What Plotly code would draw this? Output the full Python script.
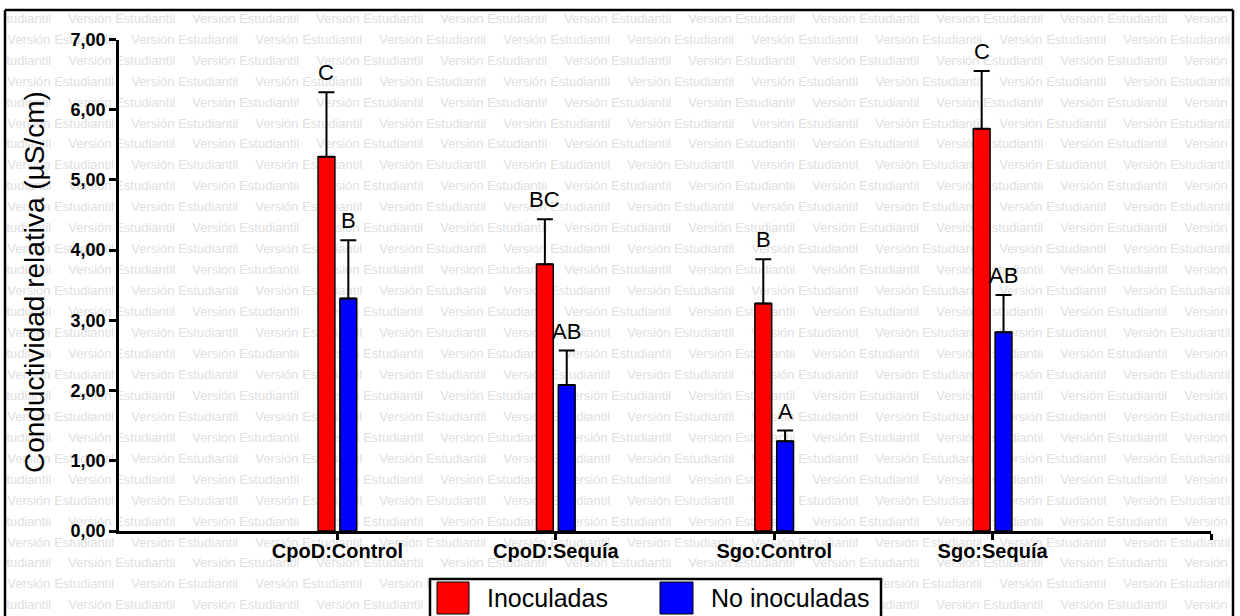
import plotly.graph_objects as go

# ---- data -------------------------------------------------------------
categories = ["CpoD:Control", "CpoD:Sequía", "Sgo:Control", "Sgo:Sequía"]
series_names = ["Inoculadas", "No inoculadas"]

inoc_mean = [5.33, 3.80, 3.24, 5.73]
inoc_err = [0.92, 0.64, 0.63, 0.82]
inoc_letters = ["C", "BC", "B", "C"]

no_mean = [3.31, 2.08, 1.28, 2.83]
no_err = [0.83, 0.49, 0.15, 0.53]
no_letters = ["B", "AB", "A", "AB"]

y_ticks = [0, 1, 2, 3, 4, 5, 6, 7]

# ---- page geometry (pixels) -------------------------------------------
W, H = 1240, 616
FONT = "Liberation Sans, Arial, sans-serif"
RED, BLUE = "#ff0000", "#0000ff"


def px(x):
    return x / W


def py(y):
    return (H - y) / H


x_idx = list(range(len(categories)))

fig = go.Figure()

# ---- background watermark (own full-page subplot) -----------------------
wm_x, wm_y = [], []
word_w = 107.4
period = 124.0
for k in range(29):
    yc = 19.5 + 20.95 * k
    start = 68.0 if k % 2 == 0 else 7.0
    s = start - period
    while s < 1232:
        wm_x.append(s + word_w / 2)
        wm_y.append(yc)
        s += period
fig.add_trace(go.Scatter(
    x=wm_x, y=wm_y, mode="text", text=["Versión Estudiantil"] * len(wm_x),
    textposition="middle center",
    textfont=dict(family=FONT, size=13, color="#e0e0e0"),
    cliponaxis=True, hoverinfo="skip", showlegend=False,
    xaxis="x", yaxis="y",
))

# ---- bars ---------------------------------------------------------------
fig.add_trace(go.Bar(
    x=x_idx, y=inoc_mean, name=series_names[0],
    marker=dict(color=RED, line=dict(color="#000000", width=1.5)),
    error_y=dict(type="data", array=inoc_err, arrayminus=[0] * 4, symmetric=False,
                 color="#000000", thickness=2, width=8),
    xaxis="x2", yaxis="y2", showlegend=False,
))
fig.add_trace(go.Bar(
    x=x_idx, y=no_mean, name=series_names[1],
    marker=dict(color=BLUE, line=dict(color="#000000", width=1.5)),
    error_y=dict(type="data", array=no_err, arrayminus=[0] * 4, symmetric=False,
                 color="#000000", thickness=2, width=8),
    xaxis="x2", yaxis="y2", showlegend=False,
))

annotations = []
# significance letters above each error bar
for i in x_idx:
    for off, mean, err, lab in ((-0.0503, inoc_mean, inoc_err, inoc_letters),
                                (0.0503, no_mean, no_err, no_letters)):
        annotations.append(dict(
            x=i + off, y=mean[i] + err[i], xref="x2", yref="y2",
            text=lab[i], showarrow=False, xanchor="center", yanchor="bottom",
            yshift=5, font=dict(family=FONT, size=22, color="#000000"),
        ))

# y-axis title
annotations.append(dict(
    x=px(34), y=py(282), xref="paper", yref="paper",
    text="Conductividad relativa (µS/cm)", textangle=-90, showarrow=False,
    xanchor="center", yanchor="middle",
    font=dict(family=FONT, size=28, color="#000000"),
))

# legend labels
for lx, name in ((485, series_names[0]), (709, series_names[1])):
    annotations.append(dict(
        x=px(lx), y=py(598), xref="paper", yref="paper", text=name,
        showarrow=False, xanchor="left", yanchor="middle",
        font=dict(family=FONT, size=25, color="#000000"),
    ))

frame = dict(color="#000000", width=2.5)
white = dict(width=0)
shapes = [
    # white margin outside the frame
    dict(type="rect", xref="paper", yref="paper", x0=0, x1=px(5),
         y0=-0.1, y1=1, line=white, fillcolor="#ffffff", layer="above"),
    dict(type="rect", xref="paper", yref="paper", x0=px(1233), x1=1,
         y0=-0.1, y1=1, line=white, fillcolor="#ffffff", layer="above"),
    dict(type="rect", xref="paper", yref="paper", x0=0, x1=1,
         y0=py(10), y1=1, line=white, fillcolor="#ffffff", layer="above"),
    # outer frame (top, left, right edges)
    dict(type="line", xref="paper", yref="paper", x0=px(5), x1=px(1233),
         y0=py(10), y1=py(10), line=frame, layer="above"),
    dict(type="line", xref="paper", yref="paper", x0=px(5), x1=px(5),
         y0=py(10), y1=0, line=frame, layer="above"),
    dict(type="line", xref="paper", yref="paper", x0=px(1233), x1=px(1233),
         y0=py(10), y1=0, line=frame, layer="above"),
    # legend box
    dict(type="rect", xref="paper", yref="paper", x0=px(430), x1=px(881),
         y0=-0.1, y1=py(579), line=dict(color="#000000", width=2.5),
         fillcolor="#ffffff", layer="above"),
    # legend swatches
    dict(type="rect", xref="paper", yref="paper", x0=px(437), x1=px(469),
         y0=py(614), y1=py(582), line=dict(color="#000000", width=1),
         fillcolor=RED, layer="above"),
    dict(type="rect", xref="paper", yref="paper", x0=px(660), x1=px(693),
         y0=py(614), y1=py(582), line=dict(color="#000000", width=1),
         fillcolor=BLUE, layer="above"),
]

fig.update_layout(
    width=W, height=H,
    margin=dict(l=0, r=0, t=0, b=0, pad=0, autoexpand=False),
    paper_bgcolor="#ffffff", plot_bgcolor="rgba(0,0,0,0)",
    separators=",.",
    barmode="group", bargap=0.80, bargroupgap=0.23,
    showlegend=False,
    font=dict(family=FONT, color="#000000"),
    xaxis=dict(domain=[px(6), px(1232)], range=[6, 1232], visible=False,
               fixedrange=True, automargin=False),
    yaxis=dict(domain=[0, py(11)], range=[616, 11], visible=False,
               fixedrange=True, automargin=False),
    xaxis2=dict(
        domain=[px(119), px(1211)], range=[-1, 4], anchor="y2",
        tickmode="array", tickvals=x_idx + [4], ticktext=categories + [""],
        showline=True, linecolor="#000000", linewidth=2.5,
        ticks="outside", ticklen=6, tickwidth=2.5, tickcolor="#000000",
        ticklabelstandoff=-6,
        showgrid=False, zeroline=False, automargin=False,
        tickfont=dict(family=FONT, size=20, color="#000000", weight="bold"),
    ),
    yaxis2=dict(
        domain=[py(531), py(39.5)], range=[0, 7], anchor="x2",
        tickmode="array", tickvals=y_ticks, tickformat=".2f",
        showline=True, linecolor="#000000", linewidth=2.5,
        ticks="outside", ticklen=7, tickwidth=2.5, tickcolor="#000000",
        showgrid=False, zeroline=False, automargin=False,
        tickfont=dict(family=FONT, size=18, color="#000000", weight="bold"),
    ),
    annotations=annotations,
    shapes=shapes,
)

fig.write_html("out.html")
